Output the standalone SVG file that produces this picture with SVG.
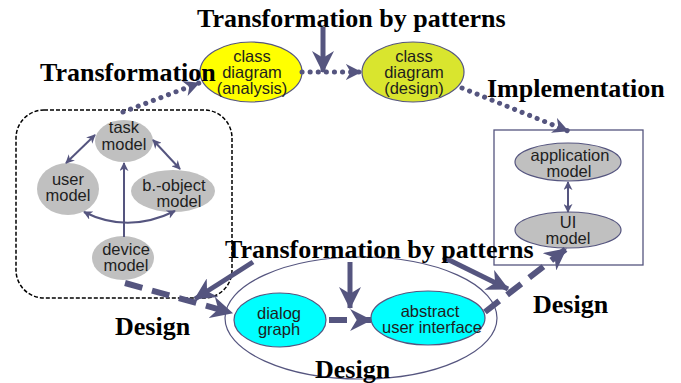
<svg xmlns="http://www.w3.org/2000/svg" width="681" height="383" viewBox="0 0 681 383">
<style>
.lbl{font-family:"Liberation Serif","Times New Roman",serif;font-weight:bold;font-size:26px;fill:#000}
.t{font-family:"Liberation Sans",Arial,sans-serif;font-size:16.5px;fill:#1e1e1e;text-anchor:middle}
.el{stroke:#55557f;stroke-width:1.2}
.gray{fill:#c0c0c0}
.cyan{fill:#00ffff}
.thin{stroke:#55557f;stroke-width:2;fill:none;marker-start:url(#hThin);marker-end:url(#hThin)}
.thick{stroke:#55557f;stroke-width:5;fill:none;marker-end:url(#hBig)}
.dash{stroke:#55557f;stroke-width:6;fill:none;stroke-dasharray:18 10;marker-end:url(#hBig)}
.dot{stroke:#55557f;stroke-width:5;fill:none;stroke-dasharray:0.1 8;stroke-linecap:round;marker-end:url(#hDot)}
</style>
<defs>
<marker id="hBig" viewBox="0 0 20 20" refX="19" refY="10" markerWidth="22" markerHeight="22" markerUnits="userSpaceOnUse" orient="auto"><path d="M0,0 L20,10 L0,20 L6,10 z" fill="#55557f"/></marker>
<marker id="hDot" viewBox="0 0 20 20" refX="19" refY="10" markerWidth="16" markerHeight="16" markerUnits="userSpaceOnUse" orient="auto"><path d="M0,0 L20,10 L0,20 L6,10 z" fill="#55557f"/></marker>
<marker id="hThin" viewBox="0 0 10 10" refX="9" refY="5" markerWidth="9" markerHeight="9" markerUnits="userSpaceOnUse" orient="auto-start-reverse"><path d="M0,0 L10,5 L0,10 L3,5 z" fill="#55557f"/></marker>
<marker id="hThinE" viewBox="0 0 10 10" refX="9" refY="5" markerWidth="9" markerHeight="9" markerUnits="userSpaceOnUse" orient="auto"><path d="M0,0 L10,5 L0,10 L3,5 z" fill="#55557f"/></marker>
</defs>
<rect width="681" height="383" fill="#fff"/>

<g id="containers">
<rect id="modelsBox" x="16" y="110" width="216" height="188" rx="28" ry="28" fill="none" stroke="#000" stroke-width="1.5" stroke-dasharray="4 2"/>
<rect id="implBox" x="494" y="130" width="149" height="135" fill="#fff" stroke="#55557f" stroke-width="1.3"/>
<ellipse id="designEllipse" cx="361" cy="318" rx="136" ry="61" fill="none" class="el"/>
</g>

<g id="classAnalysis"><ellipse cx="251" cy="72" rx="51" ry="30" fill="#ffff00" class="el"/>
<text class="t"><tspan x="252" y="62">class</tspan><tspan x="252" y="78">diagram</tspan><tspan x="252" y="94">(analysis)</tspan></text></g>
<g id="classDesign"><ellipse cx="413" cy="72" rx="51" ry="30" fill="#d9e52e" class="el"/>
<text class="t"><tspan x="414" y="62">class</tspan><tspan x="414" y="78">diagram</tspan><tspan x="414" y="94">(design)</tspan></text></g>

<g id="taskModel"><ellipse cx="124" cy="141" rx="29" ry="21" class="gray"/>
<text class="t"><tspan x="124" y="133">task</tspan><tspan x="124" y="150">model</tspan></text></g>
<g id="userModel"><ellipse cx="68" cy="189" rx="31" ry="26" class="gray"/>
<text class="t"><tspan x="68" y="185">user</tspan><tspan x="68" y="201">model</tspan></text></g>
<g id="bobjectModel"><ellipse cx="173" cy="191" rx="42" ry="21" class="gray"/>
<text class="t"><tspan x="174" y="191">b.-object</tspan><tspan x="179" y="207">model</tspan></text></g>
<g id="deviceModel"><ellipse cx="123" cy="258" rx="31" ry="22" class="gray"/>
<text class="t"><tspan x="126" y="255">device</tspan><tspan x="126" y="271">model</tspan></text></g>

<g id="applicationModel"><ellipse cx="568" cy="162" rx="53" ry="19" class="gray el"/>
<text class="t"><tspan x="570" y="161">application</tspan><tspan x="569" y="177">model</tspan></text></g>
<g id="uiModel"><ellipse cx="568" cy="230" rx="53" ry="18" class="gray el"/>
<text class="t"><tspan x="568" y="228">UI</tspan><tspan x="568" y="244">model</tspan></text></g>

<g id="dialogGraph"><ellipse cx="280" cy="320" rx="46" ry="27" class="cyan el"/>
<text class="t"><tspan x="279" y="319">dialog</tspan><tspan x="279" y="335">graph</tspan></text></g>
<g id="abstractUI"><ellipse cx="428" cy="318" rx="57" ry="27" class="cyan el"/>
<text class="t"><tspan x="430" y="317">abstract</tspan><tspan x="432" y="333">user interface</tspan></text></g>

<g id="connectors">
<path class="thin" d="M95,135 L66,163"/>
<path class="thin" d="M153,140 L180,169"/>
<path d="M124,237 L124,163" stroke="#55557f" stroke-width="2" fill="none" marker-end="url(#hThinE)"/>
<path class="thin" d="M84,212 Q128,234 175,211"/>
<path class="thin" d="M568,182 L568,212"/>
<path class="dot" d="M302,72 L361,72"/>
<path class="dot" d="M123,112 L199,83"/>
<path class="dot" d="M462,88 L568,131"/>
<path class="thick" d="M323,27 L323,72"/>
<path class="dash" d="M125,283 L232,313"/>
<path class="dash" d="M329,320 L371,320"/>
<path class="dash" d="M485,312 L566,249"/>
<path class="thick" d="M253,262 L195,299"/>
<path class="thick" d="M350,262 L350,308"/>
<path class="thick" d="M443,257 L508,289"/>
</g>

<g id="labels">
<text class="lbl" x="197" y="27">Transformation by patterns</text>
<text class="lbl" x="40" y="81">Transformation</text>
<text class="lbl" x="487" y="97">Implementation</text>
<text class="lbl" x="225" y="258">Transformation by patterns</text>
<text class="lbl" x="115" y="335">Design</text>
<text class="lbl" x="315" y="378">Design</text>
<text class="lbl" x="533" y="313">Design</text>
</g>
</svg>
